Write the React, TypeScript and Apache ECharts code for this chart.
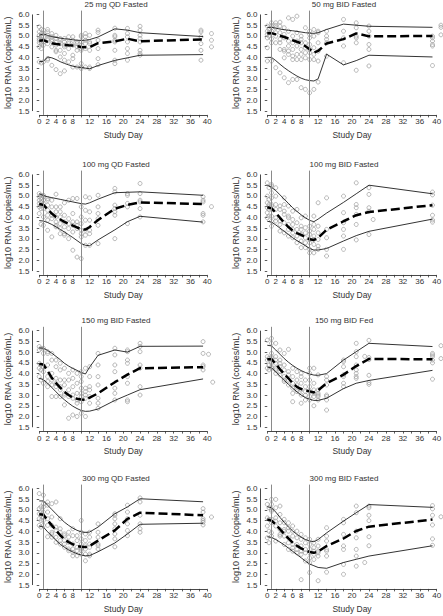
import React, { useEffect, useRef } from "react";
import * as echarts from "echarts";

const TITLES = [
  "25 mg QD Fasted",
  "50 mg BID Fasted",
  "100 mg QD Fasted",
  "100 mg BID Fasted",
  "150 mg BID Fasted",
  "150 mg BID Fed",
  "300 mg QD Fasted",
  "300 mg BID Fasted",
];

const X_TICKS = [0, 2, 4, 6, 8, 10, 12, 14, 16, 18, 20, 22, 24, 26, 28, 30, 32, 34, 36, 38, 40];
const X_LABELS = [0, 2, 4, 6, 8, 12, 16, 20, 24, 28, 32, 36, 40];
const Y_TICKS = [1.5, 2.0, 2.5, 3.0, 3.5, 4.0, 4.5, 5.0, 5.5, 6.0];
const X_NAME = "Study Day";
const Y_NAME = "log10 RNA (copies/mL)";
const VLINE_DAYS = [1, 10];

const LINE_DAYS = [0, 1, 2, 3, 4, 5, 6, 7, 8, 9, 10, 11, 12, 14, 18, 21, 24, 39];

// ---- 25 mg QD Fasted
const MED_1 = [4.78, 4.8, 4.72, 4.66, 4.62, 4.6, 4.58, 4.56, 4.55, 4.52, 4.48, 4.47, 4.48, 4.66, 4.75, 4.87, 4.75, 4.84];
const UP_1 = [5.03, 5.1, 5.02, 4.97, 4.93, 4.9, 4.87, 4.85, 4.82, 4.8, 4.79, 4.8, 4.83, 4.95, 5.33, 5.27, 5.15, 4.97];
const LO_1 = [3.8, 3.82, 4.02, 3.98, 3.9, 3.8, 3.72, 3.65, 3.59, 3.55, 3.53, 3.5, 3.47, 3.62, 3.86, 3.98, 4.1, 4.13];
const PTS_1: [number, number[]][] = [
  [0, [5.42, 5.19, 5.03, 4.88, 4.8, 4.68, 4.49, 3.79]],
  [0.5, [5.3, 5.11, 4.96, 4.83, 4.72, 4.64, 4.41, 3.74]],
  [1, [5.27, 5.11, 4.96, 4.72, 4.57, 3.79]],
  [2, [5.3, 5.19, 5.03, 4.88, 4.8, 4.64, 3.94, 3.87]],
  [3, [5.11, 4.96, 4.83, 4.75, 4.49, 3.63]],
  [4, [5.03, 4.88, 4.72, 4.57, 4.33, 4.26, 3.43]],
  [5, [4.88, 4.8, 4.64, 4.33, 4.02, 3.24]],
  [6, [4.88, 4.72, 4.57, 4.49, 4.18, 3.87, 3.37]],
  [7, [4.96, 4.72, 4.64, 4.41, 3.79]],
  [8, [4.96, 4.8, 4.57, 4.1, 3.94, 3.55]],
  [9, [4.72, 4.64, 4.49, 4.33, 3.55]],
  [10, [5.03, 4.96, 4.72, 4.57, 4.41, 4.33, 3.71, 3.55, 3.48]],
  [11, [5.11, 4.96, 4.8, 4.64, 4.41, 3.55]],
  [12, [5.03, 4.72, 4.64, 4.33, 3.55, 3.48]],
  [14, [5.27, 5.16, 4.8, 4.41, 3.94, 3.66]],
  [18, [5.36, 5.03, 4.96, 4.8, 4.72, 4.33, 3.87, 3.71]],
  [21, [5.35, 5.11, 4.96, 4.72, 4.41, 4.18, 3.87]],
  [24, [5.45, 5.27, 5.03, 4.88, 4.72, 4.33, 4.18, 4.1]],
  [38.5, [5.27, 5.19, 4.96, 4.64, 4.33, 3.87]],
  [41, [5.11, 4.8, 4.49]],
];

// ---- 50 mg BID Fasted
const MED_2 = [5.12, 5.13, 5.07, 5.01, 4.95, 4.88, 4.8, 4.73, 4.65, 4.52, 4.38, 4.22, 4.3, 4.65, 4.85, 5.12, 4.98, 5.0];
const UP_2 = [5.4, 5.4, 5.36, 5.32, 5.29, 5.26, 5.24, 5.21, 5.18, 5.15, 5.13, 5.12, 5.15, 5.3, 5.55, 5.5, 5.45, 5.4];
const LO_2 = [4.0, 4.0, 3.85, 3.68, 3.52, 3.38, 3.25, 3.13, 3.03, 2.96, 2.92, 2.9, 3.0, 4.15, 3.65, 3.85, 4.1, 4.02];
const PTS_2: [number, number[]][] = [
  [0, [5.46, 5.22, 5.07, 4.91, 4.45, 3.83]],
  [0.4, [5.3, 5.15, 4.99]],
  [1, [5.61, 5.49, 5.38, 5.22, 4.87, 4.68, 3.83]],
  [2, [5.61, 5.49, 5.38, 5.15, 4.99, 4.68, 3.52]],
  [3, [5.64, 5.46, 5.15, 4.84, 4.68, 4.37, 3.28]],
  [4, [5.38, 5.07, 4.91, 4.37, 4.29, 3.98, 3.05]],
  [5, [5.84, 5.22, 4.76, 4.53, 4.29, 4.14, 2.82]],
  [6, [5.77, 4.99, 4.68, 4.37, 4.06, 3.9, 2.97]],
  [7, [5.92, 5.15, 4.76, 4.53, 4.14, 3.9, 2.97]],
  [8, [4.99, 4.84, 4.68, 4.37, 4.14, 3.9, 2.59]],
  [9, [5.38, 4.68, 4.45, 4.22, 3.98, 2.51]],
  [10, [5.22, 5.07, 4.91, 4.6, 4.37, 4.22, 3.9, 2.35]],
  [11, [5.3, 4.99, 4.45, 4.14, 3.9, 2.51]],
  [12, [5.22, 5.15, 4.68, 4.29, 3.83, 2.85]],
  [14, [5.22, 4.99, 4.84, 4.68, 4.06]],
  [18, [5.77, 5.22, 4.91, 4.53, 3.75]],
  [21, [5.61, 5.38, 4.99, 4.91, 4.68, 3.4]],
  [24, [5.46, 5.22, 4.99, 4.6, 4.37, 3.6]],
  [39, [4.99, 4.91, 4.76, 4.6, 4.53, 3.62]],
  [41, [5.5, 5.4, 5.05]],
];

// ---- 100 mg QD Fasted
const MED_3 = [4.62, 4.58, 4.38, 4.18, 4.02, 3.9, 3.79, 3.7, 3.62, 3.53, 3.45, 3.43, 3.55, 3.88, 4.4, 4.58, 4.7, 4.62];
const UP_3 = [5.1, 5.02, 4.96, 4.92, 4.88, 4.84, 4.8, 4.76, 4.72, 4.68, 4.64, 4.62, 4.68, 4.85, 5.15, 5.17, 5.19, 5.03];
const LO_3 = [3.85, 3.83, 3.76, 3.67, 3.56, 3.44, 3.32, 3.19, 3.06, 2.92, 2.78, 2.7, 2.68, 2.95, 3.42, 3.8, 4.05, 3.78];
const PTS_3: [number, number[]][] = [
  [0, [5.11, 4.96, 4.8, 4.65, 4.49, 4.18]],
  [0.4, [5.03, 4.88, 4.72, 4.57, 4.41, 3.68]],
  [1, [5.03, 4.96, 4.8, 4.65, 4.41, 4.02, 3.63]],
  [2, [4.88, 4.8, 4.57, 4.33, 4.1, 3.87, 3.4]],
  [3, [4.8, 4.49, 4.1, 3.94, 3.09]],
  [4, [5.08, 4.49, 4.26, 4.02, 3.79, 3.63, 3.56]],
  [5, [4.49, 4.26, 4.02, 3.71, 3.48, 3.24]],
  [6, [4.68, 4.1, 3.79, 3.56, 3.24, 3.17]],
  [7, [4.8, 3.94, 3.71, 3.48, 3.01]],
  [8, [4.88, 4.18, 3.79, 3.63, 3.32, 2.47]],
  [9, [4.88, 3.79, 3.63, 3.48, 2.15]],
  [10, [4.49, 4.02, 3.71, 3.4, 3.24, 3.09, 2.08]],
  [11, [4.96, 4.33, 3.87, 3.4, 3.17, 2.7]],
  [12, [4.91, 4.26, 3.87, 3.4, 3.24, 2.7]],
  [14, [5.03, 4.49, 4.18, 3.94, 3.63, 2.78]],
  [18, [5.35, 5.19, 4.57, 4.41, 4.26, 4.1, 3.01]],
  [21, [5.11, 5.03, 4.65, 4.49, 3.71]],
  [24, [5.58, 5.11, 4.8, 4.72, 4.41, 4.02]],
  [39, [4.96, 4.8, 4.72, 4.18, 4.1, 3.79]],
  [41, [4.5]],
];

// ---- 100 mg BID Fasted
const MED_4 = [4.47, 4.42, 4.22, 3.98, 3.75, 3.55, 3.38, 3.27, 3.18, 3.08, 2.98, 2.95, 3.05, 3.42, 3.82, 4.1, 4.25, 4.57];
const UP_4 = [5.5, 5.4, 5.25, 5.05, 4.85, 4.65, 4.45, 4.28, 4.12, 3.98, 3.86, 3.8, 3.92, 4.2, 4.7, 5.1, 5.5, 5.1];
const LO_4 = [3.82, 3.78, 3.65, 3.5, 3.35, 3.2, 3.05, 2.92, 2.8, 2.68, 2.55, 2.48, 2.48, 2.55, 2.9, 3.15, 3.35, 3.92];
const PTS_4: [number, number[]][] = [
  [0, [5.61, 4.99, 4.68, 4.45, 4.22, 3.98]],
  [0.4, [5.38, 4.84, 4.6, 4.37, 4.06]],
  [1, [5.53, 5.46, 5.15, 4.91, 4.6, 4.53, 4.37, 4.06, 3.83, 3.59]],
  [2, [5.38, 4.99, 4.6, 4.37, 3.98, 3.83]],
  [3, [4.53, 4.37, 3.83, 3.67, 3.36]],
  [4, [4.91, 4.6, 4.29, 4.14, 3.75, 3.28]],
  [5, [4.53, 4.06, 3.98, 3.67, 3.44, 3.13]],
  [6, [4.29, 3.9, 3.67, 3.44, 3.28, 3.05]],
  [7, [4.37, 3.75, 3.44, 3.13, 2.82]],
  [8, [3.98, 3.59, 3.44, 3.21, 2.9, 2.59]],
  [9, [4.06, 3.52, 3.28, 3.05, 2.82, 2.59]],
  [10, [3.59, 3.36, 3.21, 2.97, 2.82, 2.51, 2.35]],
  [11, [4.06, 3.67, 3.44, 3.13, 2.97, 2.74, 2.35]],
  [12, [4.68, 3.59, 3.28, 2.97, 2.66, 2.51]],
  [14, [4.91, 3.44, 3.05, 2.51, 2.2]],
  [18, [4.99, 4.22, 3.75, 3.44, 3.13, 2.51]],
  [21, [5.61, 4.6, 4.45, 4.14, 3.67, 2.95]],
  [24, [5.38, 5.07, 4.45, 4.29, 3.2]],
  [25, [3.9]],
  [39, [5.18, 5.05, 4.57, 4.1, 3.88, 3.78]],
];

// ---- 150 mg BID Fasted
const MED_5 = [4.45, 4.42, 4.12, 3.8, 3.55, 3.35, 3.15, 3.0, 2.88, 2.83, 2.79, 2.78, 2.88, 3.08, 3.6, 3.95, 4.25, 4.3];
const UP_5 = [5.2, 5.18, 5.08, 4.95, 4.8, 4.65, 4.48, 4.35, 4.24, 4.15, 4.05, 3.98, 4.3, 4.85, 5.1, 5.0, 5.27, 5.28];
const LO_5 = [3.78, 3.72, 3.55, 3.35, 3.15, 2.95, 2.78, 2.62, 2.48, 2.37, 2.28, 2.24, 2.25, 2.35, 2.75, 3.0, 3.25, 3.75];
const PTS_5: [number, number[]][] = [
  [0, [5.26, 5.1, 4.48, 4.25, 3.86]],
  [0.4, [5.18, 4.4, 4.17, 3.7]],
  [1, [5.18, 4.94, 4.32, 4.09, 3.55]],
  [2, [5.02, 4.94, 4.4, 3.86, 3.63, 3.39]],
  [3, [4.94, 4.63, 4.01, 3.7, 3.47, 2.93]],
  [4, [4.63, 4.32, 3.78, 3.55, 3.39, 2.93]],
  [5, [4.48, 4.17, 3.7, 3.39, 3.24, 2.93]],
  [6, [4.25, 3.7, 3.47, 3.08, 3.0, 2.54]],
  [7, [4.01, 3.7, 3.24, 2.93, 1.92]],
  [8, [4.17, 3.78, 3.39, 3.0, 2.85, 2.07]],
  [9, [4.01, 3.55, 3.08, 2.77, 2.62, 2.0]],
  [10, [4.09, 3.86, 3.63, 3.32, 3.08, 2.93, 2.69, 2.15]],
  [11, [4.25, 3.32, 3.16, 3.0, 2.85, 2.0]],
  [12, [4.32, 3.86, 3.39, 3.24, 2.93, 2.62]],
  [14, [4.94, 4.4, 3.86, 3.47, 2.85, 2.62, 2.38]],
  [18, [5.18, 4.87, 4.4, 4.09, 3.32, 3.08, 2.77]],
  [21, [5.1, 5.02, 4.63, 4.48, 3.86, 3.55, 2.77, 2.69]],
  [24, [5.41, 5.26, 5.02, 4.4, 4.25, 3.39, 3.0]],
  [39, [5.49, 4.94, 4.4, 4.32, 4.17]],
  [40.3, [4.9]],
  [41.3, [3.6]],
];

// ---- 150 mg BID Fed
const MED_6 = [4.67, 4.67, 4.45, 4.2, 3.98, 3.78, 3.55, 3.38, 3.28, 3.22, 3.17, 3.12, 3.22, 3.55, 3.95, 4.35, 4.68, 4.67];
const UP_6 = [5.32, 5.29, 5.1, 4.9, 4.7, 4.53, 4.38, 4.25, 4.14, 4.05, 3.98, 3.93, 3.92, 4.0, 4.63, 5.02, 5.41, 5.26];
const LO_6 = [4.3, 4.27, 4.08, 3.88, 3.68, 3.5, 3.32, 3.15, 3.0, 2.88, 2.8, 2.75, 2.75, 2.85, 3.3, 3.55, 3.68, 4.15];
const PTS_6: [number, number[]][] = [
  [0, [5.56, 4.79, 4.63, 4.25]],
  [0.4, [4.71, 4.4, 4.17]],
  [1, [5.64, 5.41, 4.94, 4.79, 4.71, 4.56, 4.48, 4.32, 4.25]],
  [2, [5.41, 4.79, 4.63, 4.48, 4.25, 4.17, 4.01]],
  [3, [5.1, 4.63, 4.48, 4.32, 4.09, 3.94]],
  [4, [4.94, 4.4, 4.17, 3.86, 3.7, 3.63]],
  [5, [5.13, 4.09, 3.94, 3.7, 3.47]],
  [6, [4.25, 3.86, 3.55, 3.32, 3.08, 2.69]],
  [7, [4.09, 3.7, 3.47, 3.24, 3.16]],
  [8, [4.01, 3.86, 3.55, 3.24, 3.0, 2.62]],
  [9, [3.7, 3.39, 3.16, 3.0, 2.77]],
  [10, [4.25, 4.01, 3.7, 3.39, 3.16, 2.93, 2.77]],
  [11, [4.25, 3.55, 3.24, 3.08, 2.93, 2.5]],
  [12, [3.94, 3.24, 3.08, 3.0, 2.93, 2.77]],
  [14, [3.86, 3.7, 3.47, 3.0, 2.93, 2.77, 2.3]],
  [18, [4.63, 4.56, 4.32, 3.94, 3.86, 3.55, 3.39]],
  [21, [5.41, 5.02, 4.79, 4.4, 4.17, 4.01, 3.86, 3.78]],
  [23, [4.8]],
  [24, [5.55, 4.75, 4.65, 3.92, 3.58, 3.5]],
  [39, [4.94, 4.87, 4.79, 4.63, 4.5, 3.74]],
  [41, [5.3, 4.7]],
];

// ---- 300 mg QD Fasted
const MED_7 = [4.8, 4.78, 4.52, 4.28, 4.05, 3.82, 3.63, 3.5, 3.4, 3.32, 3.28, 3.27, 3.32, 3.57, 4.05, 4.58, 4.87, 4.75];
const UP_7 = [5.42, 5.42, 5.22, 5.02, 4.82, 4.62, 4.43, 4.28, 4.15, 4.05, 3.98, 3.95, 3.97, 4.2, 4.82, 5.14, 5.52, 5.38];
const LO_7 = [4.25, 4.2, 3.98, 3.78, 3.58, 3.4, 3.26, 3.14, 3.04, 2.96, 2.9, 2.86, 2.87, 3.05, 3.46, 3.88, 4.33, 4.38];
const PTS_7: [number, number[]][] = [
  [0, [5.76, 5.06, 4.82, 4.59, 4.28]],
  [0.4, [5.14, 4.9, 4.75, 4.51, 4.2]],
  [1, [5.69, 5.29, 5.14, 4.9, 4.67, 4.51, 4.28]],
  [2, [5.37, 5.22, 4.9, 4.59, 4.28, 3.75]],
  [3, [5.29, 4.67, 4.28, 3.96, 3.88, 3.73]],
  [4, [5.37, 4.2, 4.04, 3.73, 3.49]],
  [5, [4.59, 4.12, 3.96, 3.57, 3.41]],
  [6, [3.88, 3.8, 3.57, 3.41, 3.26]],
  [7, [3.96, 3.73, 3.49, 3.18, 3.1]],
  [8, [4.12, 3.8, 3.41, 3.18, 3.02, 2.86]],
  [9, [3.8, 3.57, 3.26, 3.1, 2.86]],
  [10, [4.51, 3.96, 3.65, 3.41, 3.26, 3.18, 3.1, 2.94]],
  [11, [3.88, 3.57, 3.33, 3.18, 2.94, 2.63]],
  [12, [3.96, 3.73, 3.41, 3.26, 2.94, 2.86]],
  [14, [4.35, 3.96, 3.73, 3.41, 3.33, 3.18]],
  [18, [4.82, 4.75, 4.59, 4.35, 4.12, 3.88, 3.65, 3.28]],
  [21, [5.22, 4.9, 4.59, 4.35, 4.04, 3.8]],
  [24, [5.56, 5.37, 4.75, 4.35, 4.12, 3.96]],
  [39, [5.06, 4.9, 4.59, 4.51, 4.43, 4.3]],
  [41, [4.67]],
];

// ---- 300 mg BID Fasted
const MED_8 = [4.55, 4.5, 4.32, 4.1, 3.88, 3.67, 3.48, 3.33, 3.21, 3.12, 3.04, 3.0, 3.06, 3.32, 3.67, 4.02, 4.22, 4.55];
const UP_8 = [5.15, 5.1, 4.9, 4.65, 4.42, 4.2, 4.02, 3.86, 3.73, 3.62, 3.55, 3.52, 3.62, 3.93, 4.48, 4.87, 5.25, 5.12];
const LO_8 = [3.75, 3.72, 3.62, 3.5, 3.37, 3.22, 3.07, 2.92, 2.77, 2.62, 2.48, 2.4, 2.32, 2.28, 2.55, 2.7, 2.85, 3.33];
const PTS_8: [number, number[]][] = [
  [0, [5.26, 4.63, 4.25, 3.7]],
  [0.4, [5.1, 4.56, 4.01, 3.47]],
  [1, [5.49, 5.26, 5.02, 4.94, 4.56, 4.4, 3.94, 3.78]],
  [2, [5.49, 5.1, 4.63, 4.48, 4.25, 3.55]],
  [3, [5.18, 4.79, 4.4, 4.09, 3.86, 3.78]],
  [4, [4.56, 4.4, 4.09, 4.01, 3.78, 3.39]],
  [5, [4.4, 4.17, 4.01, 3.7, 3.47, 3.16]],
  [6, [4.25, 4.01, 3.78, 3.39, 3.24, 3.08]],
  [7, [4.01, 3.7, 3.39, 3.16, 3.0]],
  [8, [3.86, 3.63, 3.32, 3.08, 2.93, 1.75]],
  [9, [3.7, 3.47, 3.16, 3.0, 2.62]],
  [10, [3.63, 3.39, 3.16, 3.0, 2.77, 2.54, 2.08]],
  [11, [3.47, 3.24, 3.08, 2.93, 2.69]],
  [12, [3.63, 3.32, 3.08, 3.0, 2.85, 1.7]],
  [14, [4.17, 3.78, 3.55, 3.16, 3.08, 2.85, 2.1]],
  [18, [4.56, 4.4, 3.86, 3.32, 3.16, 2.46, 2.0]],
  [21, [5.18, 4.87, 4.01, 3.7, 3.16, 2.85, 2.38]],
  [23, [2.55]],
  [24, [5.18, 5.1, 4.75, 4.5, 3.75, 3.33]],
  [39, [5.2, 5.05, 4.75, 4.3, 3.65, 3.35]],
  [41, [4.68]],
];

const PANELS = [
  { points: PTS_1, median: MED_1, upper: UP_1, lower: LO_1 },
  { points: PTS_2, median: MED_2, upper: UP_2, lower: LO_2 },
  { points: PTS_3, median: MED_3, upper: UP_3, lower: LO_3 },
  { points: PTS_4, median: MED_4, upper: UP_4, lower: LO_4 },
  { points: PTS_5, median: MED_5, upper: UP_5, lower: LO_5 },
  { points: PTS_6, median: MED_6, upper: UP_6, lower: LO_6 },
  { points: PTS_7, median: MED_7, upper: UP_7, lower: LO_7 },
  { points: PTS_8, median: MED_8, upper: UP_8, lower: LO_8 },
];

// layout
const COL_LEFT = [32.5, 260.5];
const COL_WIDTH = [181.5, 183];
const ROW_TOP = [10.6, 170.6, 326.8, 484.6];
const GRID_H = 104.3;
const TITLE_X = [116, 344];
const X_MIN = -1.6;
const X_MAX = 41.6;
const Y_MIN = 1.32;
const Y_MAX = 6.18;
const FONT = "'Liberation Sans', Arial, Helvetica, sans-serif";
const TEXT = "#333";

function buildOption() {
  const grid: any[] = [];
  const xAxis: any[] = [];
  const yAxis: any[] = [];
  const series: any[] = [];
  const graphic: any[] = [];

  PANELS.forEach((p, i) => {
    const col = i % 2;
    const row = Math.floor(i / 2);
    grid.push({
      left: COL_LEFT[col],
      top: ROW_TOP[row],
      width: COL_WIDTH[col],
      height: GRID_H,
      containLabel: false,
      outerBoundsMode: "none",
    });
    xAxis.push({
      type: "value",
      gridIndex: i,
      min: X_MIN,
      max: X_MAX,
      axisLine: { show: false },
      axisTick: { show: true, customValues: X_TICKS, length: 2.5, lineStyle: { color: "#333", width: 0.8 } },
      axisLabel: { customValues: X_LABELS, fontSize: 8, margin: 3, color: TEXT, fontFamily: FONT, fontWeight: "normal" },
      splitLine: { show: false },
      name: X_NAME,
      nameLocation: "middle",
      nameGap: 15.5,
      nameMoveOverlap: false,
      nameTextStyle: { fontSize: 8.5, color: TEXT, fontFamily: FONT, fontWeight: "normal" },
    });
    yAxis.push({
      type: "value",
      gridIndex: i,
      min: Y_MIN,
      max: Y_MAX,
      axisLine: { show: false },
      axisTick: { show: true, customValues: Y_TICKS, length: 2.5, lineStyle: { color: "#333", width: 0.8 } },
      axisLabel: {
        customValues: Y_TICKS,
        formatter: (v: number) => v.toFixed(1),
        fontSize: 8,
        margin: 3,
        color: TEXT,
        fontFamily: FONT,
        fontWeight: "normal",
      },
      splitLine: { show: false },
      name: Y_NAME,
      nameLocation: "middle",
      nameGap: 20,
      nameMoveOverlap: false,
      nameTextStyle: { fontSize: 9, color: TEXT, fontFamily: FONT, fontWeight: "normal" },
    });

    const pts: number[][] = [];
    p.points.forEach(([d, vals]) => vals.forEach((v) => pts.push([d, v])));

    series.push({
      type: "scatter",
      xAxisIndex: i,
      yAxisIndex: i,
      data: pts,
      symbol: "circle",
      symbolSize: 4,
      silent: true,
      itemStyle: { color: "rgba(255,255,255,0)", borderColor: "#9a9a9a", borderWidth: 0.9 },
      z: 2,
      markLine: {
        silent: true,
        symbol: "none",
        animation: false,
        label: { show: false },
        lineStyle: { color: "#8a8a8a", width: 1, type: "solid" },
        data: [
          ...VLINE_DAYS.map((d) => ({ xAxis: d })),
          [
            { coord: [X_TICKS[0], Y_MIN], lineStyle: { color: "#333", width: 0.9, type: "solid" } },
            { coord: [X_TICKS[X_TICKS.length - 1], Y_MIN] },
          ],
          [
            { coord: [X_MIN, Y_TICKS[0]], lineStyle: { color: "#333", width: 0.9, type: "solid" } },
            { coord: [X_MIN, Y_TICKS[Y_TICKS.length - 1]] },
          ],
        ],
      },
    });
    const mk = (vals: number[]) => LINE_DAYS.map((d, j) => [d, vals[j]]);
    series.push({
      type: "line",
      xAxisIndex: i,
      yAxisIndex: i,
      data: mk(p.upper),
      showSymbol: false,
      silent: true,
      lineStyle: { color: "#000", width: 0.8 },
      z: 3,
    });
    series.push({
      type: "line",
      xAxisIndex: i,
      yAxisIndex: i,
      data: mk(p.lower),
      showSymbol: false,
      silent: true,
      lineStyle: { color: "#000", width: 0.8 },
      z: 3,
    });
    series.push({
      type: "line",
      xAxisIndex: i,
      yAxisIndex: i,
      data: mk(p.median),
      showSymbol: false,
      silent: true,
      lineStyle: { color: "#000", width: 2.5, type: [9, 4] },
      z: 4,
    });

    graphic.push({
      type: "text",
      x: TITLE_X[col],
      y: ROW_TOP[row] - 6,
      style: {
        text: TITLES[i],
        fontSize: 8,
        fontFamily: FONT,
        fontWeight: "normal",
        fill: TEXT,
        align: "center",
        verticalAlign: "middle",
        textAlign: "center",
        textVerticalAlign: "middle",
      },
    });
  });

  return {
    animation: false,
    backgroundColor: "#fff",
    grid,
    xAxis,
    yAxis,
    series,
    graphic,
  };
}

export default function App() {
  const ref = useRef<HTMLDivElement>(null);
  useEffect(() => {
    if (!ref.current) return;
    const chart = echarts.init(ref.current, undefined, { renderer: "svg" });
    chart.setOption(buildOption() as any);
    return () => chart.dispose();
  }, []);
  return (
    <div
      ref={ref}
      style={{ position: "fixed", left: 0, top: 0, width: 443, height: 616, background: "#fff" }}
    />
  );
}
